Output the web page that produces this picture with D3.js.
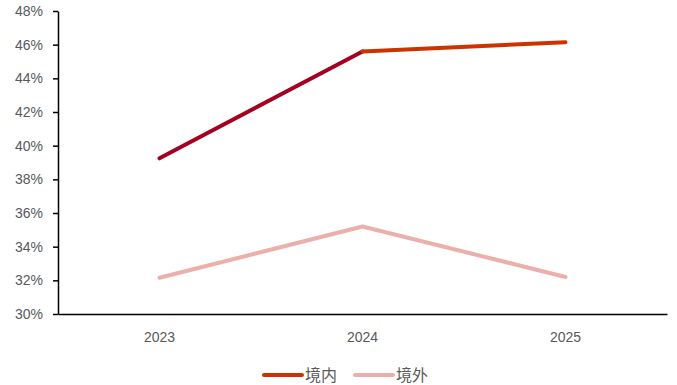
<!DOCTYPE html>
<html>
<head>
<meta charset="utf-8">
<script src="https://cdn.jsdelivr.net/npm/d3@7"></script>
<style>
  html, body { margin: 0; padding: 0; background: #fff; }
  svg { display: block; }
  text { font-family: "Noto Sans CJK SC", "Liberation Sans", sans-serif; }
</style>
</head>
<body>
<div id="chart"></div>
<script>
const years = ["2023", "2024", "2025"];
const domestic = [39.25, 45.6, 46.15];
const overseas = [32.15, 35.2, 32.2];
const yTicks = [30, 32, 34, 36, 38, 40, 42, 44, 46, 48];
const seriesNames = ["境内", "境外"];

const W = 677, H = 385;
const plot = { left: 58, right: 667, top: 11, bottom: 314 };

const svg = d3.select("#chart").append("svg")
  .attr("width", W).attr("height", H);

const x = d3.scaleBand().domain(years).range([plot.left, plot.right]);
const y = d3.scaleLinear().domain([30, 48]).range([plot.bottom, plot.top]);

// y axis
const yAxis = svg.append("g")
  .attr("transform", `translate(${plot.left},0)`)
  .call(d3.axisLeft(y).tickValues(yTicks).tickSize(5).tickSizeOuter(0)
    .tickFormat(d => d + "%"));
yAxis.select(".domain").attr("stroke", "#000").attr("stroke-width", 1.5);
yAxis.selectAll(".tick line").attr("stroke", "#000").attr("stroke-width", 1.5);
yAxis.selectAll(".tick text")
  .attr("fill", "#595959").attr("font-size", 14).attr("x", -15)
  .style("font-family", "'Liberation Sans', sans-serif");

// x axis
const xAxis = svg.append("g")
  .attr("transform", `translate(0,${plot.bottom})`)
  .call(d3.axisBottom(x).tickSize(0).tickSizeOuter(0));
xAxis.select(".domain").attr("stroke", "#000").attr("stroke-width", 1.5);
xAxis.selectAll(".tick text")
  .attr("fill", "#595959").attr("font-size", 14).attr("dy", "1.75em")
  .style("font-family", "'Liberation Sans', sans-serif");

const cx = d => x(d) + x.bandwidth() / 2;
const line = d3.line().x(d => cx(d.year)).y(d => y(d.v));

// overseas series
svg.append("path")
  .datum(years.map((yr, i) => ({ year: yr, v: overseas[i] })))
  .attr("d", line)
  .attr("fill", "none").attr("stroke", "#ECAFAB").attr("stroke-width", 4)
  .attr("stroke-linecap", "round").attr("stroke-linejoin", "round");

// domestic series, drawn segment by segment
const segColors = ["#A50021", "#CC3300"];
for (let i = 0; i < years.length - 1; i++) {
  svg.append("path")
    .datum([{ year: years[i], v: domestic[i] }, { year: years[i + 1], v: domestic[i + 1] }])
    .attr("d", line)
    .attr("fill", "none").attr("stroke", segColors[i]).attr("stroke-width", 4)
    .attr("stroke-linecap", "round").attr("stroke-linejoin", "round");
}

// legend
const legendColors = ["#CC3300", "#ECAFAB"];
const legendX = [264, 355];
seriesNames.forEach((name, i) => {
  const g = svg.append("g").attr("transform", `translate(${legendX[i]},375)`);
  g.append("line").attr("x1", 0).attr("x2", 38).attr("y1", 0).attr("y2", 0)
    .attr("stroke", legendColors[i]).attr("stroke-width", 4).attr("stroke-linecap", "round");
  g.append("text").attr("x", 41).attr("y", 0).attr("dy", "0.35em")
    .attr("font-size", 16).attr("fill", "#595959").text(name);
});
</script>
</body>
</html>
